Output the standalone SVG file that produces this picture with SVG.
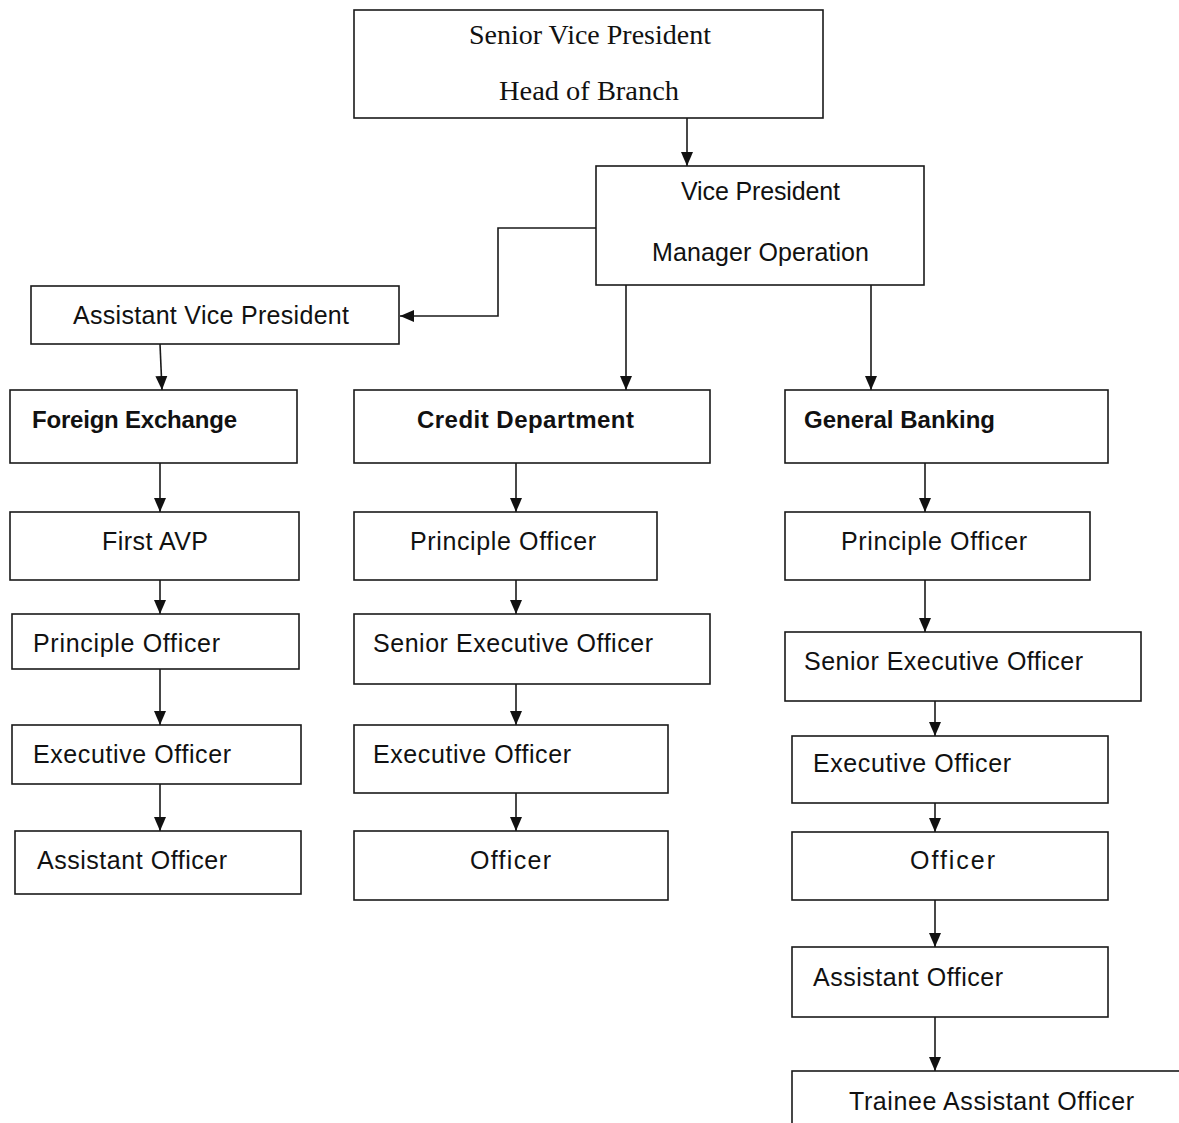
<svg xmlns="http://www.w3.org/2000/svg" width="1179" height="1123" viewBox="0 0 1179 1123">
<style>
.box{fill:#fff;stroke:#1a1a1a;stroke-width:1.6}
.t{font-family:"Liberation Sans",Arial,sans-serif;font-size:25px;fill:#111}
.b{font-family:"Liberation Sans",Arial,sans-serif;font-size:24px;font-weight:bold;fill:#111}
.s{font-family:"Liberation Serif","Times New Roman",serif;font-size:27px;fill:#111}
.c{fill:none;stroke:#1a1a1a;stroke-width:1.6}
</style>
<defs>
<marker id="ah" markerUnits="userSpaceOnUse" markerWidth="14" markerHeight="14" viewBox="0 0 14 14" refX="14" refY="7" orient="auto">
<path d="M0,1 L14,7 L0,13 Z" fill="#111"/>
</marker>
</defs>
<rect width="1179" height="1123" fill="#fff"/>
<g id="connectors">
<path class="c" d="M687,118 V166" marker-end="url(#ah)"/>
<path class="c" d="M596,228 H498 V316 H400" marker-end="url(#ah)"/>
<path class="c" d="M160,344 L162,390" marker-end="url(#ah)"/>
<path class="c" d="M626,285 V390" marker-end="url(#ah)"/>
<path class="c" d="M871,285 V390" marker-end="url(#ah)"/>
<path class="c" d="M160,463 V512" marker-end="url(#ah)"/>
<path class="c" d="M160,580 V614" marker-end="url(#ah)"/>
<path class="c" d="M160,669 V725" marker-end="url(#ah)"/>
<path class="c" d="M160,784 V831" marker-end="url(#ah)"/>
<path class="c" d="M516,463 V512" marker-end="url(#ah)"/>
<path class="c" d="M516,580 V614" marker-end="url(#ah)"/>
<path class="c" d="M516,684 V725" marker-end="url(#ah)"/>
<path class="c" d="M516,793 V831" marker-end="url(#ah)"/>
<path class="c" d="M925,463 V512" marker-end="url(#ah)"/>
<path class="c" d="M925,580 V632" marker-end="url(#ah)"/>
<path class="c" d="M935,701 V736" marker-end="url(#ah)"/>
<path class="c" d="M935,803 V832" marker-end="url(#ah)"/>
<path class="c" d="M935,900 V947" marker-end="url(#ah)"/>
<path class="c" d="M935,1017 V1071" marker-end="url(#ah)"/>
</g>
<g id="svp"><rect class="box" x="354" y="10" width="469" height="108"/>
<text class="s" x="469" y="44" textLength="242" lengthAdjust="spacingAndGlyphs">Senior Vice President</text>
<text class="s" x="499" y="100" textLength="180" lengthAdjust="spacingAndGlyphs">Head of Branch</text></g>
<g id="vp"><rect class="box" x="596" y="166" width="328" height="119"/>
<text class="t" x="681" y="200" textLength="159" lengthAdjust="spacing">Vice  President</text>
<text class="t" x="652" y="261" textLength="217" lengthAdjust="spacing">Manager  Operation</text></g>
<g id="avp"><rect class="box" x="31" y="286" width="368" height="58"/>
<text class="t" x="73" y="324" textLength="276" lengthAdjust="spacing">Assistant Vice President</text></g>
<g id="fx"><rect class="box" x="10" y="390" width="287" height="73"/>
<text class="b" x="32" y="428" textLength="205" lengthAdjust="spacing">Foreign Exchange</text></g>
<g id="cd"><rect class="box" x="354" y="390" width="356" height="73"/>
<text class="b" x="417" y="428" textLength="217" lengthAdjust="spacing">Credit Department</text></g>
<g id="gb"><rect class="box" x="785" y="390" width="323" height="73"/>
<text class="b" x="804" y="428" textLength="191" lengthAdjust="spacing">General Banking</text></g>
<g id="fx-favp"><rect class="box" x="10" y="512" width="289" height="68"/>
<text class="t" x="102" y="550" textLength="106" lengthAdjust="spacing">First AVP</text></g>
<g id="fx-po"><rect class="box" x="12" y="614" width="287" height="55"/>
<text class="t" x="33" y="652" textLength="187" lengthAdjust="spacing">Principle  Officer</text></g>
<g id="fx-eo"><rect class="box" x="12" y="725" width="289" height="59"/>
<text class="t" x="33" y="763" textLength="198" lengthAdjust="spacing">Executive Officer</text></g>
<g id="fx-ao"><rect class="box" x="15" y="831" width="286" height="63"/>
<text class="t" x="37" y="869" textLength="190" lengthAdjust="spacing">Assistant Officer</text></g>
<g id="cd-po"><rect class="box" x="354" y="512" width="303" height="68"/>
<text class="t" x="410" y="550" textLength="186" lengthAdjust="spacing">Principle  Officer</text></g>
<g id="cd-seo"><rect class="box" x="354" y="614" width="356" height="70"/>
<text class="t" x="373" y="652" textLength="280" lengthAdjust="spacing">Senior Executive Officer</text></g>
<g id="cd-eo"><rect class="box" x="354" y="725" width="314" height="68"/>
<text class="t" x="373" y="763" textLength="198" lengthAdjust="spacing">Executive Officer</text></g>
<g id="cd-o"><rect class="box" x="354" y="831" width="314" height="69"/>
<text class="t" x="470" y="869" textLength="81" lengthAdjust="spacing">Officer</text></g>
<g id="gb-po"><rect class="box" x="785" y="512" width="305" height="68"/>
<text class="t" x="841" y="550" textLength="186" lengthAdjust="spacing">Principle  Officer</text></g>
<g id="gb-seo"><rect class="box" x="785" y="632" width="356" height="69"/>
<text class="t" x="804" y="670" textLength="279" lengthAdjust="spacing">Senior Executive Officer</text></g>
<g id="gb-eo"><rect class="box" x="792" y="736" width="316" height="67"/>
<text class="t" x="813" y="772" textLength="198" lengthAdjust="spacing">Executive Officer</text></g>
<g id="gb-o"><rect class="box" x="792" y="832" width="316" height="68"/>
<text class="t" x="910" y="869" textLength="85" lengthAdjust="spacing">Officer</text></g>
<g id="gb-ao"><rect class="box" x="792" y="947" width="316" height="70"/>
<text class="t" x="813" y="986" textLength="190" lengthAdjust="spacing">Assistant Officer</text></g>
<g id="gb-tao"><rect class="box" x="792" y="1071" width="400" height="70"/>
<text class="t" x="849" y="1110" textLength="285" lengthAdjust="spacing">Trainee Assistant Officer</text></g>
</svg>
